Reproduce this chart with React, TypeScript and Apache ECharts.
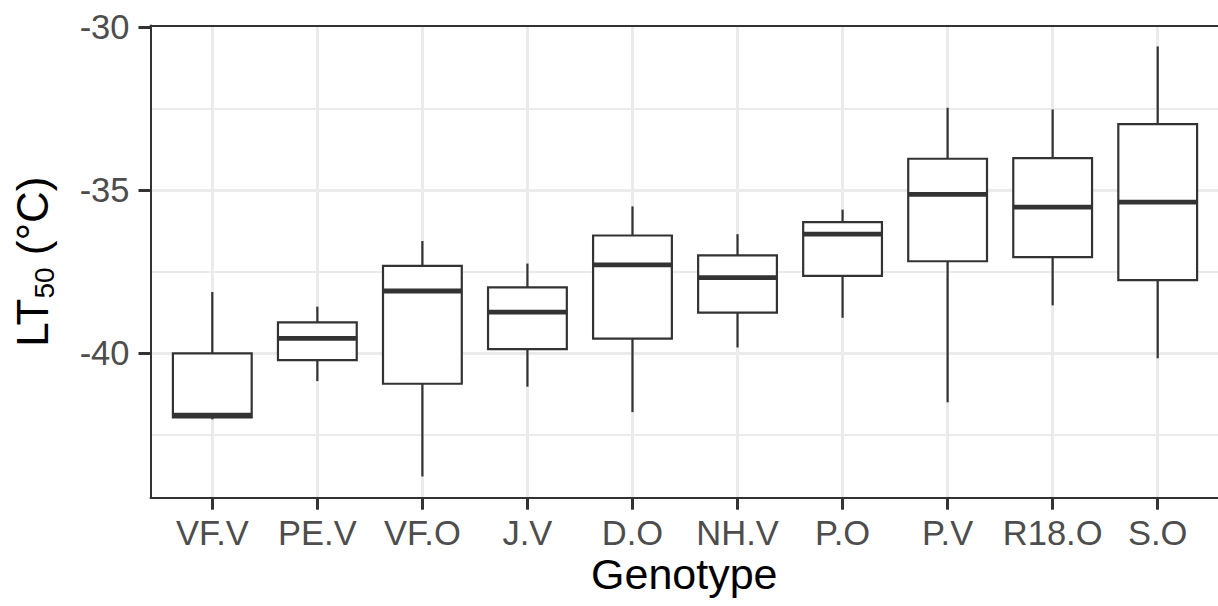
import React, { useEffect, useRef } from "react";
import * as echarts from "echarts";

const categories = ["VF.V", "PE.V", "VF.O", "J.V", "D.O", "NH.V", "P.O", "P.V", "R18.O", "S.O"];
const whiskerLow = [-42.02, -40.85, -43.77, -41.02, -41.8, -39.82, -38.91, -41.5, -38.53, -40.15];
const q1 = [-41.96, -40.21, -40.93, -39.87, -39.55, -38.75, -37.63, -37.18, -37.05, -37.76];
const median = [-41.89, -39.54, -38.09, -38.74, -37.29, -37.68, -36.35, -35.13, -35.52, -35.37];
const q3 = [-40.0, -39.05, -37.32, -37.98, -36.39, -37.0, -35.98, -34.04, -34.02, -32.98];
const whiskerHigh = [-38.12, -38.57, -36.56, -37.25, -35.5, -36.35, -35.6, -32.48, -32.53, -30.6];

const majorTicks = [-40, -35, -30];
const majorGrid = [-40, -35];
const minorGrid = [-42.5, -37.5, -32.5];
const yMin = -44.42;
const yMax = -29.96;

const FONT = "'Liberation Sans', Arial, sans-serif";
const INK = "#333333";

export default function App() {
  const ref = useRef<HTMLDivElement>(null);
  useEffect(() => {
    if (!ref.current) return;
    const chart = echarts.init(ref.current, null, { renderer: "svg" });
    const data = categories.map((_, i) => [i, whiskerLow[i], q1[i], median[i], q3[i], whiskerHigh[i]]);
    const gridTop = 25.5;
    const gridHeight = 472.2;
    chart.setOption({
      animation: false,
      backgroundColor: "#ffffff",
      grid: [
        { left: 150.5, top: gridTop, width: 1070.2, height: gridHeight },
        { left: 212.3, top: gridTop, width: 945.4, height: gridHeight },
      ],
      xAxis: [
        {
          type: "value", gridIndex: 0, position: "bottom", min: 0, max: 1, z: 5,
          axisLine: { show: true, lineStyle: { color: INK, width: 2 } },
          axisTick: { show: false }, axisLabel: { show: false }, splitLine: { show: false },
          name: "Genotype", nameLocation: "middle", nameGap: 55,
          nameTextStyle: { fontSize: 43, color: "#000000", fontFamily: FONT },
        },
        {
          type: "value", gridIndex: 0, position: "top", min: 0, max: 1, z: 5,
          axisLine: { show: true, lineStyle: { color: INK, width: 2 } },
          axisTick: { show: false }, axisLabel: { show: false }, splitLine: { show: false },
        },
        {
          type: "category", gridIndex: 1, data: categories, boundaryGap: false, z: 0,
          axisLine: { show: false },
          axisTick: { show: true, length: 12, lineStyle: { color: INK, width: 3 } },
          axisLabel: { fontSize: 34.5, color: "#4D4D4D", fontFamily: FONT, margin: 18, interval: 0 },
          splitLine: { show: true, lineStyle: { color: "#EBEBEB", width: 3 } },
        },
      ],
      yAxis: [
        {
          type: "value", gridIndex: 0, min: yMin, max: yMax, z: 5,
          axisLine: { show: true, lineStyle: { color: INK, width: 2 } },
          axisTick: { show: true, length: 12, customValues: majorTicks, lineStyle: { color: INK, width: 3 } },
          axisLabel: { show: true, customValues: majorTicks, fontSize: 34.5, color: "#4D4D4D", fontFamily: FONT, margin: 21 },
          splitLine: { show: false },
          name: "{a|LT}{s|50}{a| (°C)}", nameLocation: "middle", nameRotate: 90, nameGap: 92,
          nameTextStyle: {
            fontFamily: FONT, color: "#000000",
            rich: {
              a: { fontSize: 44, fontFamily: FONT, color: "#000000", lineHeight: 44, verticalAlign: "top" },
              s: { fontSize: 28, fontFamily: FONT, color: "#000000", lineHeight: 48, verticalAlign: "bottom" },
            },
          },
        },
        {
          type: "value", gridIndex: 0, min: yMin, max: yMax, z: 0,
          axisLine: { show: false },
          axisTick: { show: false, customValues: majorGrid },
          axisLabel: { show: false },
          splitLine: { show: true, lineStyle: { color: "#EBEBEB", width: 3 } },
        },
        {
          type: "value", gridIndex: 0, min: yMin, max: yMax, z: 0,
          axisLine: { show: false },
          axisTick: { show: false, customValues: minorGrid },
          axisLabel: { show: false },
          splitLine: { show: true, lineStyle: { color: "#EBEBEB", width: 1.8 } },
        },
        {
          type: "value", gridIndex: 1, min: yMin, max: yMax, show: false,
          splitLine: { show: false },
        },
      ],
      series: [
        {
          type: "custom",
          xAxisIndex: 2,
          yAxisIndex: 3,
          z: 2,
          data,
          renderItem: (params: any, api: any) => {
            const i = api.value(0);
            const pLow = api.coord([i, api.value(1)]);
            const pQ1 = api.coord([i, api.value(2)]);
            const pMed = api.coord([i, api.value(3)]);
            const pQ3 = api.coord([i, api.value(4)]);
            const pHigh = api.coord([i, api.value(5)]);
            const bw = api.size([1, 0])[0] * 0.75;
            const cx = pMed[0];
            const stroke = { stroke: INK, lineWidth: 2.2, fill: null };
            return {
              type: "group",
              children: [
                { type: "line", shape: { x1: cx, y1: pQ3[1], x2: cx, y2: pHigh[1] }, style: stroke },
                { type: "line", shape: { x1: cx, y1: pQ1[1], x2: cx, y2: pLow[1] }, style: stroke },
                {
                  type: "rect",
                  shape: { x: cx - bw / 2, y: pQ3[1], width: bw, height: pQ1[1] - pQ3[1] },
                  style: { fill: "#ffffff", stroke: INK, lineWidth: 2.2 },
                },
                {
                  type: "line",
                  shape: { x1: cx - bw / 2, y1: pMed[1], x2: cx + bw / 2, y2: pMed[1] },
                  style: { stroke: INK, lineWidth: 4.8 },
                },
              ],
            };
          },
        },
      ],
    });
    return () => chart.dispose();
  }, []);
  return (
    <div
      ref={ref}
      style={{ position: "fixed", left: 0, top: 0, width: 1218, height: 606, background: "#ffffff" }}
    />
  );
}
